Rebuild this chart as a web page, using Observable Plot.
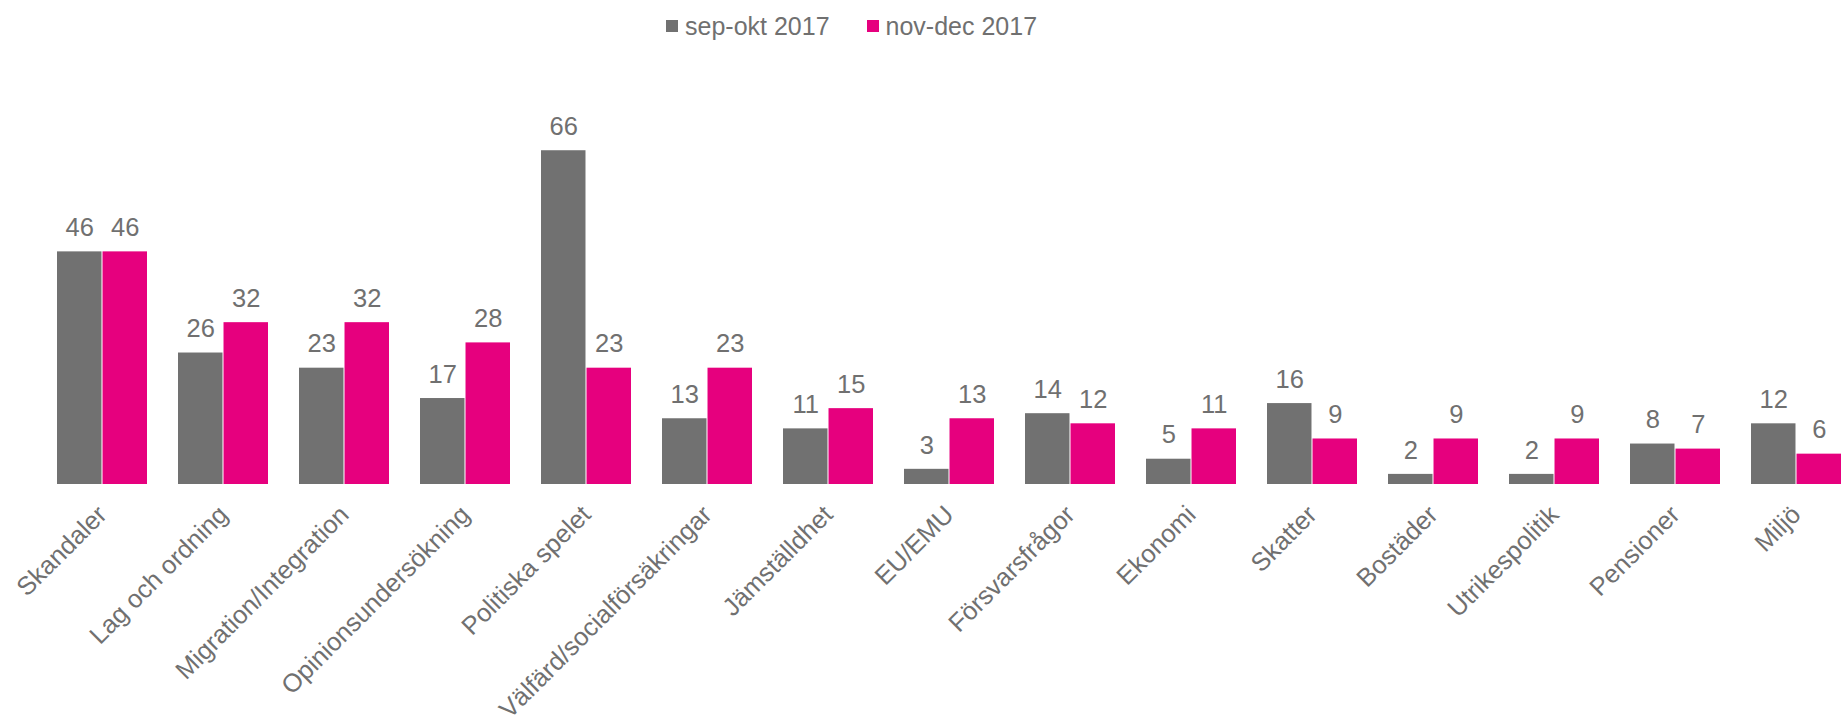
<!DOCTYPE html>
<html>
<head>
<meta charset="utf-8">
<script src="https://cdn.jsdelivr.net/npm/d3@7"></script>
<script src="https://cdn.jsdelivr.net/npm/@observablehq/plot@0.6"></script>
<style>
  html, body { margin: 0; padding: 0; background: #fff; }
  #wrap { position: relative; width: 1843px; height: 725px; overflow: hidden; font-family: "Liberation Sans", Arial, sans-serif; }
  #legend { position: absolute; top: 0; left: 666px; height: 52px; display: flex; align-items: center; font-size: 25px; color: #707070; z-index: 2; }
  .item { display: flex; align-items: center; margin-right: 37px; }
  .sw { width: 12px; height: 12px; margin-right: 7px; }
</style>
</head>
<body>
<div id="wrap"><div id="legend"></div><div id="chart"></div></div>
<script>
const categories = ["Skandaler", "Lag och ordning", "Migration/Integration", "Opinionsundersökning", "Politiska spelet", "Välfärd/socialförsäkringar", "Jämställdhet", "EU/EMU", "Försvarsfrågor", "Ekonomi", "Skatter", "Bostäder", "Utrikespolitik", "Pensioner", "Miljö"];
const seriesNames = ["sep-okt 2017", "nov-dec 2017"];
const sepOkt = [46, 26, 23, 17, 66, 13, 11, 3, 14, 5, 16, 2, 2, 8, 12];
const novDec = [46, 32, 32, 28, 23, 23, 15, 13, 12, 11, 9, 9, 9, 7, 6];
const colors = ["#717171", "#E6007E"];

const rowsA = categories.map((c, i) => ({cat: c, series: seriesNames[0], value: sepOkt[i]}));
const rowsB = categories.map((c, i) => ({cat: c, series: seriesNames[1], value: novDec[i]}));

const legend = document.getElementById("legend");
seriesNames.forEach((s, i) => {
  const it = document.createElement("div");
  it.className = "item";
  it.innerHTML = `<div class="sw" style="background:${colors[i]}"></div><span>${s}</span>`;
  legend.appendChild(it);
});

const P = 0.256;
const W = 1843;
const x0 = 26, x1 = 1872;
const step = (x1 - x0) / (categories.length - P + 2 * P);
const bw = step * (1 - P);
const half = bw / 2;

const chart = Plot.plot({
  width: W,
  height: 725,
  marginLeft: 0,
  marginRight: 0,
  marginTop: 130,
  marginBottom: 241,
  style: {fontFamily: "Liberation Sans, Arial, sans-serif", background: "transparent", overflow: "hidden"},
  x: {domain: categories, range: [x0, x1], paddingInner: P, paddingOuter: P, align: 0.5, axis: null},
  y: {domain: [0, 70], axis: null},
  color: {domain: seriesNames, range: colors},
  marks: [
    Plot.barY(rowsA, {x: "cat", y: "value", fill: "series", insetLeft: 0, insetRight: half + 0.5}),
    Plot.barY(rowsB, {x: "cat", y: "value", fill: "series", insetLeft: half + 0.5, insetRight: 0}),
    Plot.text(rowsA, {x: "cat", y: "value", text: d => String(d.value), lineAnchor: "middle", dx: -half / 2 - 0.25, dy: -24, fontSize: 25.5, fill: "#707070"}),
    Plot.text(rowsB, {x: "cat", y: "value", text: d => String(d.value), lineAnchor: "middle", dx: half / 2 + 0.25, dy: -24, fontSize: 25.5, fill: "#707070"}),
    Plot.axisX({anchor: "bottom", tickRotate: -45, tickSize: 0, tickPadding: 26, fontSize: 25.5, color: "#707070", label: null})
  ]
});
document.getElementById("chart").appendChild(chart);
</script>
</body>
</html>
